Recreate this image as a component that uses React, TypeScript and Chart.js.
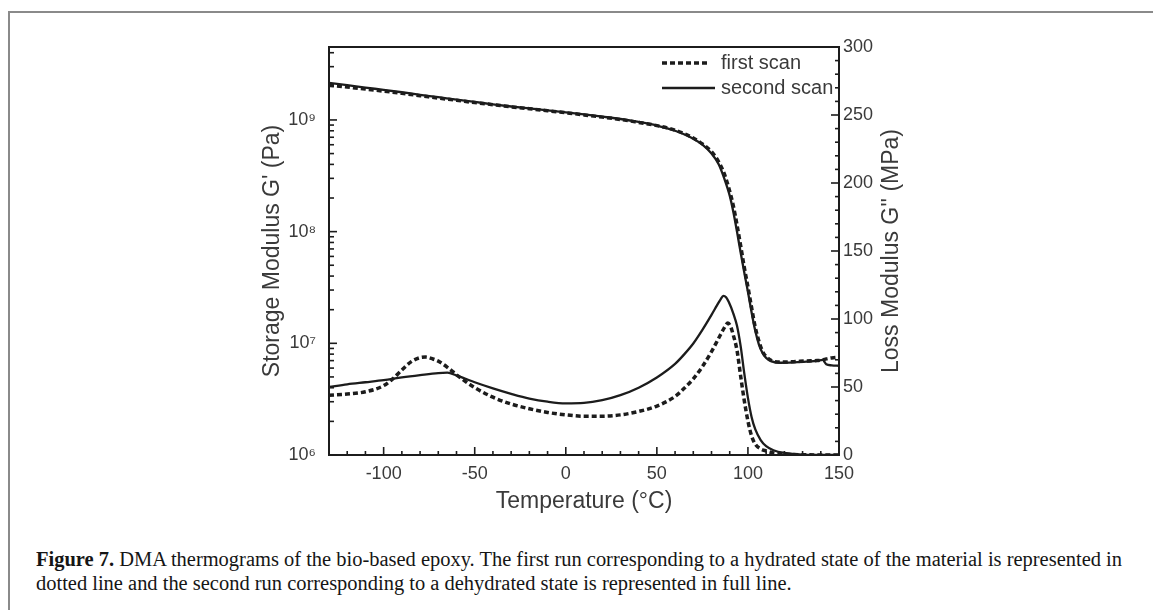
import React, { useEffect, useLayoutEffect, useRef } from "react";
import { Chart, registerables } from "chart.js";

Chart.register(...registerables);

// ---------- data ----------
const storageTemps = [-130, -120, -110, -100, -90, -80, -70, -60, -50, -40, -30, -20, -10, 0, 10, 20, 30, 40, 50, 60, 70, 75, 80, 84, 87, 90, 92, 94, 96, 98, 100, 102, 104, 106, 108, 110, 113, 118, 125, 132, 138, 141, 143, 146, 150];
const storageFirst = [2.05e9, 1.97e9, 1.89e9, 1.81e9, 1.73e9, 1.65e9, 1.57e9, 1.5e9, 1.43e9, 1.37e9, 1.31e9, 1.26e9, 1.21e9, 1.16e9, 1.11e9, 1.06e9, 1.01e9, 9.5e8, 8.9e8, 8.1e8, 6.9e8, 6.1e8, 5.2e8, 4.2e8, 3.3e8, 2.3e8, 1.7e8, 1.15e8, 7.5e7, 4.8e7, 3.2e7, 2.1e7, 1.4e7, 1.05e7, 8.5e6, 7.6e6, 7.0e6, 6.8e6, 6.85e6, 6.95e6, 7.0e6, 7.1e6, 7.25e6, 7.4e6, 7.5e6];
const storageSecond = [2.15e9, 2.05e9, 1.95e9, 1.86e9, 1.77e9, 1.68e9, 1.6e9, 1.52e9, 1.45e9, 1.38e9, 1.32e9, 1.27e9, 1.22e9, 1.17e9, 1.12e9, 1.07e9, 1.02e9, 9.6e8, 8.9e8, 8.0e8, 6.8e8, 6.0e8, 5.0e8, 4.0e8, 3.0e8, 2.1e8, 1.5e8, 1.0e8, 6.5e7, 4.3e7, 2.9e7, 1.9e7, 1.3e7, 9.8e6, 8.2e6, 7.4e6, 6.9e6, 6.7e6, 6.75e6, 6.85e6, 6.95e6, 7.1e6, 6.5e6, 6.35e6, 6.3e6];

const lossFirstTemps = [-130, -120, -110, -100, -95, -90, -85, -80, -77, -73, -70, -65, -60, -55, -50, -40, -30, -20, -10, 0, 10, 20, 30, 40, 50, 60, 65, 70, 75, 80, 84, 87, 89, 90.5, 92, 94, 96, 98, 100, 102, 104, 107, 110, 114, 120, 130, 150];
const lossFirst = [44, 44.8, 46.5, 51, 56, 62.5, 68.5, 71.6, 72, 70.6, 69, 64.5, 59, 54, 49.5, 42.5, 37.5, 34, 31.3, 29.5, 28.5, 28.5, 29.5, 32, 36, 43, 49, 56, 65, 76, 86, 93.5, 97, 94.5, 88, 77, 58, 40, 25, 14, 8, 4.5, 3, 1.5, 0.6, 0.2, 0];
const lossSecondTemps = [-130, -120, -110, -100, -90, -80, -70, -65, -60, -55, -50, -40, -30, -20, -10, 0, 10, 20, 30, 40, 50, 60, 65, 70, 75, 80, 83, 85, 86.5, 88, 89.5, 92, 94, 96, 98, 100, 102, 104, 107, 110, 114, 120, 130, 150];
const lossSecond = [50, 52, 53.5, 55, 57, 58.7, 60.2, 60.5, 58.5, 56, 53.5, 49, 45, 41.5, 39.2, 38, 38.3, 40.3, 44, 49.5, 57, 67, 74, 82, 92, 103, 110, 114.5, 117, 116, 112.5, 104, 95, 80, 60, 42, 28, 19, 11, 6.5, 3.5, 1.5, 0.3, 0];

const xMajorTicks = [-100, -50, 0, 50, 100, 150];
const leftMajorTicks = [1e6, 1e7, 1e8, 1e9];
const leftTickLabels = ["10\u2076", "10\u2077", "10\u2078", "10\u2079"];
const rightMajorTicks = [0, 50, 100, 150, 200, 250, 300];

const seriesNames = ["first scan", "second scan"];
const xTitle = "Temperature (\u00B0C)";
const leftTitle = "Storage Modulus G' (Pa)";
const rightTitle = "Loss Modulus G'' (MPa)";

// ---------- styles ----------
const INK = "#1c1c1c";
const TEXT = "#3a3a3a";
const SANS = "'Liberation Sans', Arial, sans-serif";
const DASH = [5, 3];

const frameTicksPlugin = {
  id: "frameTicks",
  afterDatasetsDraw(chart: any) {
    const { ctx, chartArea: a, scales } = chart;
    const xs = scales.x, yl = scales.y, yr = scales.y2;
    ctx.save();
    ctx.strokeStyle = INK;
    ctx.lineWidth = 2;
    ctx.strokeRect(a.left, a.top, a.right - a.left, a.bottom - a.top);
    ctx.lineWidth = 1.6;
    const seg = (x1: number, y1: number, x2: number, y2: number) => {
      ctx.beginPath();
      ctx.moveTo(x1, y1);
      ctx.lineTo(x2, y2);
      ctx.stroke();
    };
    for (let t = xs.min; t <= xs.max + 0.001; t += 10) {
      const px = xs.getPixelForValue(t);
      const len = xMajorTicks.includes(t) ? 8 : 4;
      seg(px, a.bottom, px, a.bottom - len);
    }
    for (let d = 1e6; d <= yl.max; d *= 10) {
      for (let m = 1; m <= 9; m++) {
        const v = d * m;
        if (v > yl.max) break;
        const py = yl.getPixelForValue(v);
        const len = m === 1 ? 8 : 5;
        seg(a.left, py, a.left + len, py);
      }
    }
    for (let v = yr.min; v <= yr.max + 0.001; v += 10) {
      const py = yr.getPixelForValue(v);
      const len = rightMajorTicks.includes(v) ? 8 : 4;
      seg(a.right, py, a.right - len, py);
    }
    // legend
    const lx1 = a.right - 177, lx2 = a.right - 129;
    const ly1 = a.top + 16, ly2 = a.top + 41;
    ctx.lineWidth = 3.5;
    ctx.setLineDash(DASH);
    seg(lx1, ly1, lx2, ly1);
    ctx.setLineDash([]);
    ctx.lineWidth = 2.5;
    seg(lx1, ly2, lx2 + 5, ly2);
    ctx.fillStyle = TEXT;
    ctx.font = `20px ${SANS}`;
    ctx.textBaseline = "middle";
    ctx.textAlign = "left";
    ctx.fillText(seriesNames[0], a.right - 118, ly1);
    ctx.fillText(seriesNames[1], a.right - 118, ly2);
    // right title
    ctx.save();
    ctx.translate(a.right + 53, (a.top + a.bottom) / 2);
    ctx.rotate(-Math.PI / 2);
    ctx.textAlign = "center";
    ctx.font = `23px ${SANS}`;
    ctx.fillText(rightTitle, 0, 0);
    ctx.restore();
    ctx.restore();
  },
};

function DMAChart() {
  const ref = useRef<HTMLCanvasElement>(null);
  useEffect(() => {
    if (!ref.current) return;
    const mk = (xs: number[], ys: number[]) => xs.map((x, i) => ({ x, y: ys[i] }));
    const common = {
      pointRadius: 0,
      borderColor: INK,
      fill: false,
      cubicInterpolationMode: "monotone" as const,
    };
    const chart = new Chart(ref.current, {
      type: "line",
      data: {
        datasets: [
          { ...common, label: seriesNames[0], data: mk(storageTemps, storageFirst), yAxisID: "y", borderWidth: 3.5, borderDash: DASH },
          { ...common, label: seriesNames[1], data: mk(storageTemps, storageSecond), yAxisID: "y", borderWidth: 2.3 },
          { ...common, label: seriesNames[0] + " G''", data: mk(lossFirstTemps, lossFirst), yAxisID: "y2", borderWidth: 3.5, borderDash: DASH },
          { ...common, label: seriesNames[1] + " G''", data: mk(lossSecondTemps, lossSecond), yAxisID: "y2", borderWidth: 2.3 },
        ],
      },
      options: {
        animation: false,
        responsive: false,
        maintainAspectRatio: false,
        layout: { padding: { top: 27, left: 0, right: 0, bottom: 0 } },
        plugins: { legend: { display: false }, tooltip: { enabled: false } },
        scales: {
          x: {
            type: "linear",
            min: -130,
            max: 150,
            grid: { display: false, drawTicks: false },
            border: { display: false },
            afterBuildTicks: (s: any) => { s.ticks = xMajorTicks.map((v) => ({ value: v })); },
            afterFit: (s: any) => { s.height = 85; },
            ticks: { autoSkip: false, maxRotation: 0, padding: 8, color: TEXT, font: { family: SANS, size: 18 }, callback: (v: any) => String(v) },
            title: { display: true, text: xTitle, color: TEXT, font: { family: SANS, size: 23 }, padding: { top: 0, bottom: 25 } },
          },
          y: {
            type: "logarithmic",
            position: "left",
            min: 1e6,
            max: 4.5e9,
            grid: { display: false, drawTicks: false },
            border: { display: false },
            afterBuildTicks: (s: any) => { s.ticks = leftMajorTicks.map((v) => ({ value: v })); },
            afterFit: (s: any) => { s.width = 129; },
            ticks: {
              autoSkip: false, padding: 13, color: TEXT, font: { family: SANS, size: 18 },
              callback: (v: any) => { const i = leftMajorTicks.indexOf(Number(v)); return i >= 0 ? leftTickLabels[i] : ""; },
            },
            title: { display: true, text: leftTitle, color: TEXT, font: { family: SANS, size: 23 }, padding: { top: 59, bottom: 0 } },
          },
          y2: {
            type: "linear",
            position: "right",
            min: 0,
            max: 300,
            grid: { display: false, drawTicks: false },
            border: { display: false },
            afterBuildTicks: (s: any) => { s.ticks = rightMajorTicks.map((v) => ({ value: v })); },
            afterFit: (s: any) => { s.width = 121; },
            ticks: { autoSkip: false, padding: 4, color: TEXT, font: { family: SANS, size: 18 }, callback: (v: any) => String(v) },
          },
        },
      },
      plugins: [frameTicksPlugin],
    } as any);
    return () => chart.destroy();
  }, []);
  return (
    <canvas
      ref={ref}
      width={760}
      height={520}
      style={{ position: "absolute", left: 200, top: 20, width: 760, height: 520 }}
    />
  );
}

function Caption() {
  const boxRef = useRef<HTMLDivElement>(null);
  const lineRef = useRef<HTMLSpanElement>(null);
  useLayoutEffect(() => {
    if (!boxRef.current || !lineRef.current) return;
    const w = lineRef.current.getBoundingClientRect().width;
    if (w > 0) boxRef.current.style.transform = `scaleX(${1086 / w})`;
  }, []);
  return (
    <div
      ref={boxRef}
      style={{
        position: "absolute",
        left: 36,
        top: 547,
        fontFamily: "'Liberation Serif', 'Times New Roman', serif",
        fontSize: 20,
        lineHeight: "24px",
        color: "#151515",
        transformOrigin: "0 0",
        whiteSpace: "nowrap",
      }}
    >
      <div>
        <span ref={lineRef} style={{ display: "inline-block" }}>
          <b>Figure 7.</b> DMA thermograms of the bio-based epoxy. The first run corresponding to a hydrated state of the material is represented in
        </span>
      </div>
      <div>dotted line and the second run corresponding to a dehydrated state is represented in full line.</div>
    </div>
  );
}

export default function App() {
  return (
    <div style={{ position: "absolute", left: 0, top: 0, width: 1153, height: 610, background: "#fff", overflow: "hidden" }}>
      <div style={{ position: "absolute", left: 8, top: 11, width: 1145, height: 2, background: "#8a8a8a" }} />
      <div style={{ position: "absolute", left: 8, top: 11, width: 2, height: 599, background: "#8a8a8a" }} />
      <DMAChart />
      <Caption />
    </div>
  );
}
